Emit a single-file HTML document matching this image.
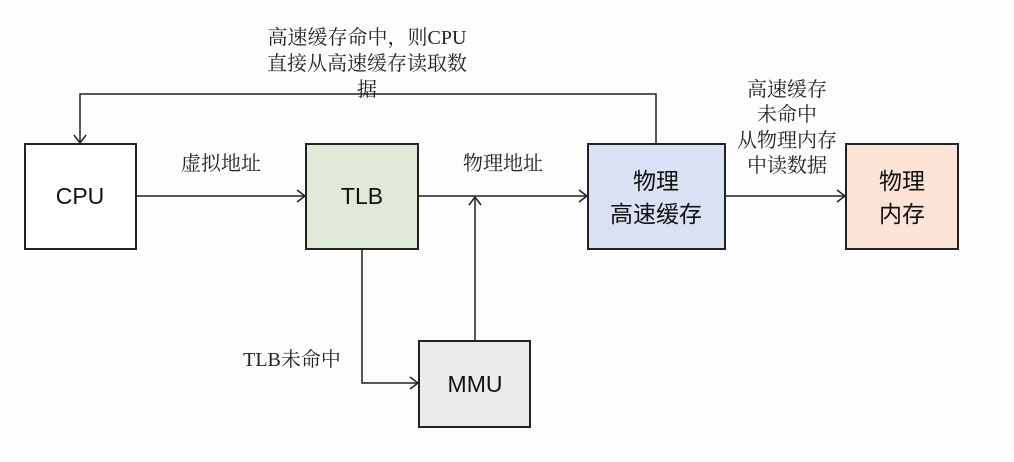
<!DOCTYPE html>
<html><head><meta charset="utf-8"><style>
body{margin:0;background:#fff;}
svg text{font-family:"Liberation Serif","Noto Serif CJK SC",serif;font-size:20px;fill:#222;}
svg text.b{font-family:"Liberation Sans","Noto Sans CJK SC",sans-serif;font-size:23px;fill:#111;}
</style></head><body>
<svg width="1014" height="457" viewBox="0 0 1014 457" xmlns="http://www.w3.org/2000/svg">
<rect width="1014" height="457" fill="#fdfdfd"/>
<g stroke="#222" stroke-width="2">
<rect x="25" y="144" width="111" height="105" fill="#fff"/>
<rect x="306" y="144" width="112" height="105" fill="#e0ead7"/>
<rect x="588" y="144" width="137" height="105" fill="#d9e1f2"/>
<rect x="846" y="144" width="112" height="105" fill="#fbe4d5"/>
<rect x="419" y="341" width="111" height="86" fill="#ebebeb"/>
</g>
<g stroke="#222" stroke-width="1.5" fill="none">
<line x1="136" y1="196" x2="305" y2="196"/><polyline points="297,190 305,196 297,202"/>
<line x1="418" y1="196" x2="587" y2="196"/><polyline points="579,190 587,196 579,202"/>
<line x1="725" y1="196" x2="845" y2="196"/><polyline points="837,190 845,196 837,202"/>
<polyline points="656,144 656,94 80,94 80,143"/><polyline points="74,135 80,143 86,135"/>
<polyline points="362,249 362,383 418,383"/><polyline points="410,377 418,383 410,389"/>
<line x1="475" y1="341" x2="475" y2="197"/><polyline points="469,205 475,197 481,205"/>
</g>
<text class="b" x="80" y="204" text-anchor="middle">CPU</text>
<text class="b" x="362" y="204" text-anchor="middle">TLB</text>
<text class="b" x="475" y="392" text-anchor="middle">MMU</text>
<text class="b" x="656" y="189" text-anchor="middle">物理</text>
<text class="b" x="656" y="222" text-anchor="middle">高速缓存</text>
<text class="b" x="902" y="189" text-anchor="middle">物理</text>
<text class="b" x="902" y="222" text-anchor="middle">内存</text>
<text x="221" y="170" text-anchor="middle">虚拟地址</text>
<text x="503" y="170" text-anchor="middle">物理地址</text>
<text x="292" y="366" text-anchor="middle">TLB未命中</text>
<text x="367" y="44" text-anchor="middle">高速缓存命中，则CPU</text>
<text x="367" y="70" text-anchor="middle">直接从高速缓存读取数</text>
<text x="367" y="96" text-anchor="middle">据</text>
<text x="787" y="96" text-anchor="middle">高速缓存</text>
<text x="787" y="121" text-anchor="middle">未命中</text>
<text x="787" y="147" text-anchor="middle">从物理内存</text>
<text x="787" y="172" text-anchor="middle">中读数据</text>
</svg>
</body></html>
